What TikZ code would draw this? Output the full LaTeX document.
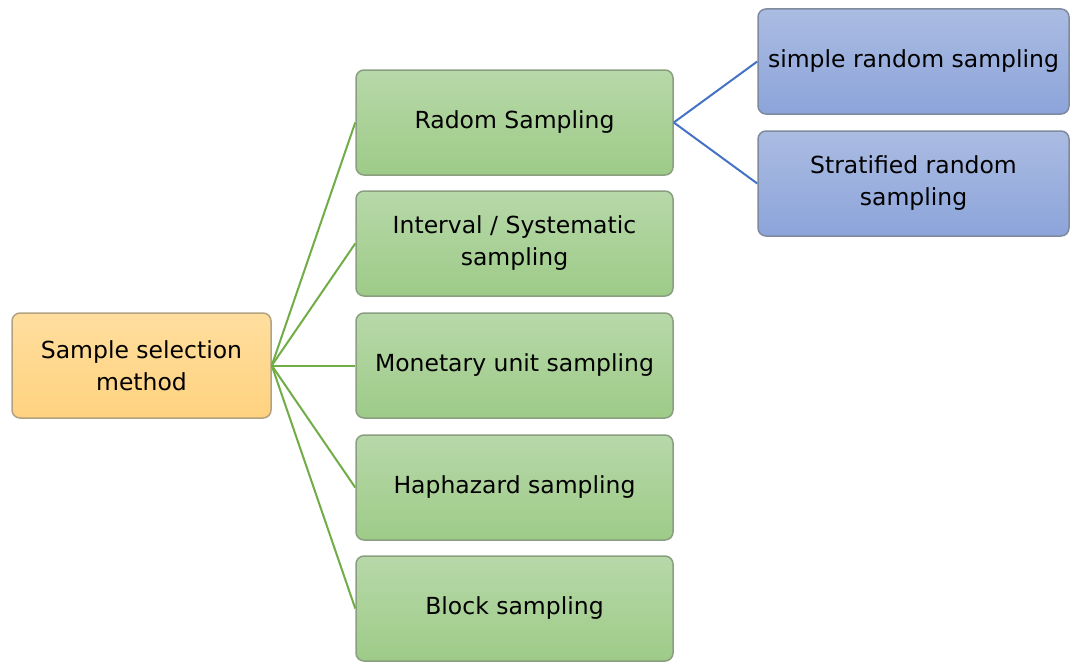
\documentclass[tikz,border=0pt]{standalone}
\usepackage{fontspec}
\setmainfont{DejaVu Sans}
\definecolor{greenline}{HTML}{70AD47}
\definecolor{blueline}{HTML}{4472C4}
\definecolor{greentop}{HTML}{B7D8A9}
\definecolor{greenbot}{HTML}{9ECB88}
\definecolor{greenedge}{HTML}{8A9E80}
\definecolor{orangetop}{HTML}{FFDE9E}
\definecolor{orangebot}{HTML}{FFD27F}
\definecolor{orangeedge}{HTML}{B3A27F}
\definecolor{bluetop}{HTML}{ABBCE2}
\definecolor{bluebot}{HTML}{8CA4DA}
\definecolor{blueedge}{HTML}{7F8A9E}
\tikzset{
  box/.style={rectangle, rounded corners=8pt, line width=1.5pt, align=center,
    font=\fontsize{23.5}{32}\selectfont, text=black, inner sep=0pt},
  rootbox/.style={box, draw=orangeedge, top color=orangetop, bottom color=orangebot,
    minimum width=259pt, minimum height=105pt},
  methodbox/.style={box, draw=greenedge, top color=greentop, bottom color=greenbot,
    minimum width=317pt, minimum height=105pt},
  subbox/.style={box, draw=blueedge, top color=bluetop, bottom color=bluebot,
    minimum width=311pt, minimum height=105pt},
  greenlink/.style={draw=greenline, line width=2pt},
  bluelink/.style={draw=blueline, line width=2pt}
}
\begin{document}
\begin{tikzpicture}[x=1pt,y=-1pt]
\useasboundingbox (0,0) rectangle (1070,661);

% root of the tree
\node[rootbox] (root) at (141.5,365.5) {Sample selection\\method};

% selection methods
\node[methodbox] (m1) at (514.5,122.5) {Radom Sampling};
\node[methodbox] (m2) at (514.5,243.5) {Interval / Systematic\\sampling};
\node[methodbox] (m3) at (514.5,365.5) {Monetary unit sampling};
\node[methodbox] (m4) at (514.5,487.5) {Haphazard sampling};
\node[methodbox] (m5) at (514.5,608.5) {Block sampling};

% kinds of random sampling
\node[subbox] (s1) at (913.5,61.5) {simple random sampling};
\node[subbox] (s2) at (913.5,183.5) {Stratified random\\sampling};

% connectors
\foreach \m in {m1,m2,m3,m4,m5}
  \draw[greenlink] (root.east) -- (\m.west);
\draw[bluelink] (m1.east) -- (s1.west);
\draw[bluelink] (m1.east) -- (s2.west);
\end{tikzpicture}
\end{document}
